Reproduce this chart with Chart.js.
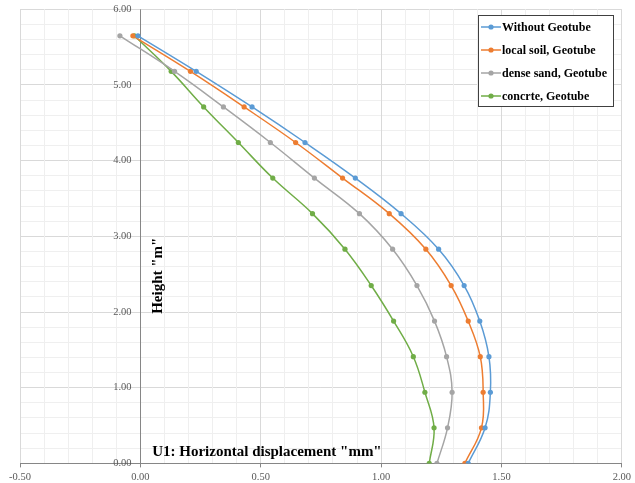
<!DOCTYPE html>
<html>
<head>
<meta charset="utf-8">
<script src="https://cdn.jsdelivr.net/npm/chart.js@4.4.1/dist/chart.umd.min.js"></script>
<style>
  body { margin: 0; background: #fff; }
  #wrap { width: 635px; height: 483px; }
</style>
</head>
<body>
<div id="wrap"><canvas id="chart" width="635" height="483"></canvas></div>
<script>
// ===== DATA =====
const heights = [0, 0.47, 0.94, 1.41, 1.88, 2.35, 2.83, 3.30, 3.77, 4.24, 4.71, 5.18, 5.65]; // "m"
const withoutGeotube = [1.362, 1.432, 1.454, 1.448, 1.410, 1.345, 1.239, 1.083, 0.893, 0.684, 0.464, 0.232, -0.010];
const localSoilGeotube = [1.348, 1.417, 1.424, 1.412, 1.362, 1.291, 1.186, 1.034, 0.840, 0.645, 0.431, 0.208, -0.031];
const denseSandGeotube = [1.232, 1.276, 1.295, 1.272, 1.222, 1.149, 1.048, 0.910, 0.723, 0.540, 0.345, 0.142, -0.085];
const concreteGeotube = [1.200, 1.220, 1.182, 1.134, 1.052, 0.959, 0.850, 0.715, 0.550, 0.407, 0.263, 0.128, -0.025];
const seriesNames = ['Without Geotube', 'local soil, Geotube', 'dense sand, Geotube', 'concrte, Geotube'];
const xTicksMajor = [-0.5, 0, 0.5, 1, 1.5, 2];
const yTicksMajor = [0, 1, 2, 3, 4, 5, 6];
const xTitle = 'U1: Horizontal displacement "mm"';
const yTitle = 'Height "m"';

const seriesValues = [withoutGeotube, localSoilGeotube, denseSandGeotube, concreteGeotube];
const colors = ['#5B9BD5', '#ED7D31', '#A5A5A5', '#70AD47'];
const axisColor = '#868686';
const labelFont = { family: '"Liberation Serif", serif', size: 10.5 };

const isMajor = (list, v) => list.some(m => Math.abs(m - v) < 1e-6);

// titles + legend drawn inside the plot, like the Excel original
const overlayText = {
    id: 'overlayText',
    afterDraw(chart) {
        const { ctx, scales: { x, y } } = chart;
        ctx.save();
        ctx.fillStyle = '#000';
        ctx.font = 'bold 15px "Liberation Serif"';
        ctx.textAlign = 'left';
        ctx.textBaseline = 'alphabetic';
        ctx.fillText(xTitle, x.getPixelForValue(0.049), y.getPixelForValue(0.093));

        ctx.save();
        ctx.translate(x.getPixelForValue(0.075), y.getPixelForValue(2.48));
        ctx.rotate(-Math.PI / 2);
        ctx.textAlign = 'center';
        ctx.textBaseline = 'middle';
        ctx.fillText(yTitle, 0, 0);
        ctx.restore();

        // legend box
        const bx = 478.5, by = 15.5, bw = 135, bh = 91;
        ctx.fillStyle = '#fff';
        ctx.fillRect(bx, by, bw, bh);
        ctx.strokeStyle = '#404040';
        ctx.lineWidth = 1;
        ctx.strokeRect(bx, by, bw, bh);
        ctx.font = 'bold 12px "Liberation Serif"';
        ctx.textBaseline = 'middle';
        ctx.textAlign = 'left';
        seriesNames.forEach((name, i) => {
            const ry = 27 + i * 23;
            ctx.strokeStyle = colors[i];
            ctx.lineWidth = 1.5;
            ctx.beginPath();
            ctx.moveTo(481, ry);
            ctx.lineTo(501, ry);
            ctx.stroke();
            ctx.fillStyle = colors[i];
            ctx.beginPath();
            ctx.arc(491, ry, 2.6, 0, Math.PI * 2);
            ctx.fill();
            ctx.fillStyle = '#000';
            ctx.fillText(name, 502, ry + 0.5);
        });
        ctx.restore();
    }
};

new Chart(document.getElementById('chart'), {
    type: 'scatter',
    data: {
        datasets: seriesValues.map((vals, i) => ({
            label: seriesNames[i],
            data: heights.map((h, j) => ({ x: vals[j], y: h })),
            showLine: true,
            borderColor: colors[i],
            backgroundColor: colors[i],
            borderWidth: 1.5,
            pointRadius: 2.6,
            pointBorderWidth: 0,
            tension: 0.4
        }))
    },
    options: {
        responsive: false,
        animation: false,
        layout: { padding: { left: 20, right: 12, top: 3, bottom: -5 } },
        plugins: { legend: { display: false }, tooltip: { enabled: false } },
        scales: {
            x: {
                type: 'linear',
                min: -0.5,
                max: 2,
                position: 'bottom',
                ticks: {
                    stepSize: 0.1,
                    autoSkip: false,
                    maxRotation: 0,
                    padding: 4,
                    font: labelFont,
                    color: '#595959',
                    callback: v => isMajor(xTicksMajor, v) ? (Math.round(v * 100) / 100).toFixed(2) : ''
                },
                grid: {
                    // the line at x = 0 doubles as the vertical axis line
                    color: c => Math.abs(c.tick.value) < 1e-6 ? axisColor : (isMajor(xTicksMajor, c.tick.value) ? '#D9D9D9' : '#EFEFEF'),
                    tickLength: 4,
                    tickColor: c => isMajor(xTicksMajor, c.tick.value) ? axisColor : 'rgba(0,0,0,0)'
                },
                border: { color: axisColor }
            },
            y: {
                type: 'linear',
                min: 0,
                max: 6,
                // labels end just left of the x = 0 line
                position: { x: -0.0365 },
                ticks: {
                    stepSize: 0.2,
                    autoSkip: false,
                    font: labelFont,
                    color: '#595959',
                    callback: v => isMajor(yTicksMajor, v) ? (Math.round(v * 100) / 100).toFixed(2) : ''
                },
                grid: {
                    z: -2, // under the x grid so the x = 0 line stays solid
                    color: c => Math.abs(c.tick.value) < 1e-6 ? axisColor : (isMajor(yTicksMajor, c.tick.value) ? '#D9D9D9' : '#EFEFEF'),
                    drawTicks: false
                },
                border: { display: false }
            }
        }
    },
    plugins: [overlayText]
});
</script>
</body>
</html>
